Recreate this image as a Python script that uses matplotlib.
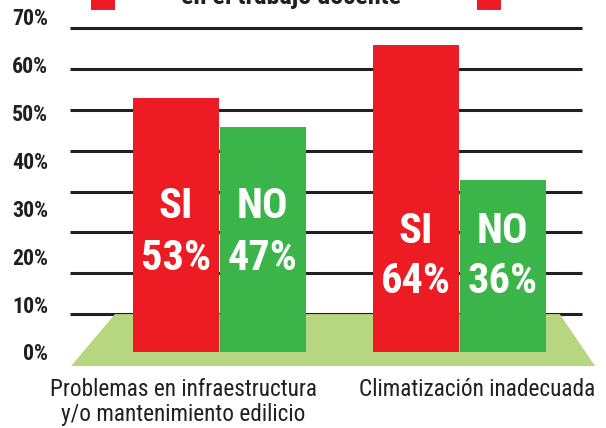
import matplotlib
matplotlib.use("Agg")
import matplotlib.pyplot as plt
from matplotlib import font_manager
from matplotlib.patches import Polygon, Rectangle
import numpy as np

# ---------------- data ----------------
categories = ["Problemas en infraestructura\ny/o mantenimiento edilicio",
              "Climatización inadecuada"]
series_labels = ["SI", "NO"]
si_values = [53, 64]
no_values = [47, 36]
y_ticks = [0, 10, 20, 30, 40, 50, 60, 70]
y_tick_labels = ["0%", "10%", "20%", "30%", "40%", "50%", "60%", "70%"]
title_text = "en el trabajo docente"

# ---------------- style ----------------
RED = "#ed1c24"
GREEN = "#3bb54a"
GROUND = "#b6d77f"
DARK = "#231f20"

names = {f.name for f in font_manager.fontManager.ttflist}


def pick(prefs):
    for p in prefs:
        if p in names:
            return p
    return "DejaVu Sans"


BODY = pick(["Roboto Condensed", "Archivo Narrow", "PT Sans Narrow",
             "Barlow Condensed", "Liberation Sans Narrow"])
HEAVY = pick(["Roboto Condensed", "Archivo Narrow", "Barlow Condensed"])

W, H = 606, 428
fig = plt.figure(figsize=(W / 100, H / 100), dpi=100)
renderer = fig.canvas.get_renderer()


def fit_width(t, target):
    for _ in range(3):
        bb = t.get_window_extent(renderer)
        if bb.width > 0:
            t.set_fontsize(t.get_fontsize() * target / bb.width)
    return t.get_fontsize()


def px_box(l, t, r, b):
    return [l / W, 1 - b / H, (r - l) / W, (b - t) / H]


PX_PER = 4.79          # pixels per percentage point
ZERO_PX = 352          # pixel row of 0 %
ax_top, ax_bot, ax_l, ax_r = 8.1, 366, 70, 595
ax = fig.add_axes(px_box(ax_l, ax_top, ax_r, ax_bot))
ax.set_ylim(-(ax_bot - ZERO_PX) / PX_PER, (ZERO_PX - ax_top) / PX_PER)
ax.set_xlim(-0.623, 1.565)
for s in ax.spines.values():
    s.set_visible(False)

x = np.arange(len(categories))
bw = 0.358
off = 0.181

# decorative grid lines (unevenly spaced relative to the labels, as in the original)
grid_levels = np.linspace(7.9, 67.6, 8)
ax.hlines(grid_levels, -0.623, 1.510, color=DARK, lw=2.2, zorder=1)

# ground trapezoid
ground = Polygon([[0.002, 0.0], [1.0, 0.0], [0.933, 0.145], [0.0857, 0.145]],
                 closed=True, transform=ax.transAxes, facecolor=GROUND,
                 edgecolor="none", zorder=2)
ax.add_patch(ground)

ax.bar(x - off, si_values, bw, color=RED, zorder=3)
ax.bar(x + off, no_values, bw, color=GREEN, zorder=3)

# labels inside bars
name_base = [28.0, 22.8]
pct_base = [17.1, 12.3]
probe = ax.text(0, 0, "53%", fontsize=30, fontweight=900, family=HEAVY)
bar_fs = fit_width(probe, 70)
probe.remove()
for i in range(len(categories)):
    for j, (lab, vals) in enumerate(zip(series_labels, [si_values, no_values])):
        xc = x[i] + (-off if j == 0 else off)
        ax.text(xc, name_base[i], lab, ha="center", va="baseline", color="white",
                fontsize=bar_fs, fontweight=900, family=HEAVY, zorder=4)
        ax.text(xc, pct_base[i], f"{vals[i]}%", ha="center", va="baseline",
                color="white", fontsize=bar_fs, fontweight=900, family=HEAVY,
                zorder=4)

probe = fig.text(0, 0, "70%", fontsize=14, fontweight="bold", family=BODY)
tick_fs = fit_width(probe, 36)
probe.remove()
ax.set_yticks(y_ticks)
ax.set_yticklabels(y_tick_labels, fontsize=tick_fs, fontweight="bold",
                   family=BODY, color=DARK)
ax.tick_params(axis="y", length=0, pad=(ax_l - 48) * 0.72)
ax.set_xticks([])

# category labels
line1, line2 = categories[0].split("\n")
t1 = fig.text(183 / W, 1 - 396 / H, line1, ha="center", va="baseline",
              fontsize=16, family=BODY, color=DARK)
cat_fs = fit_width(t1, 267)
fig.text(183 / W, 1 - 421 / H, line2, ha="center", va="baseline",
         fontsize=cat_fs, family=BODY, color=DARK)
fig.text(477 / W, 1 - 396 / H, categories[1], ha="center", va="baseline",
         fontsize=cat_fs, family=BODY, color=DARK)

# clipped title remnants
tt = fig.text(291 / W, 1 - 4 / H, title_text, ha="center", va="baseline",
              fontsize=15, fontweight="bold", family=BODY, color=DARK)
fit_width(tt, 222)
for l in (91, 477):
    fig.patches.append(Rectangle((l / W, 1 - 10 / H), 24 / W, 10 / H,
                                 transform=fig.transFigure, facecolor=RED,
                                 edgecolor="none"))

fig.savefig("out.png", dpi=100)
